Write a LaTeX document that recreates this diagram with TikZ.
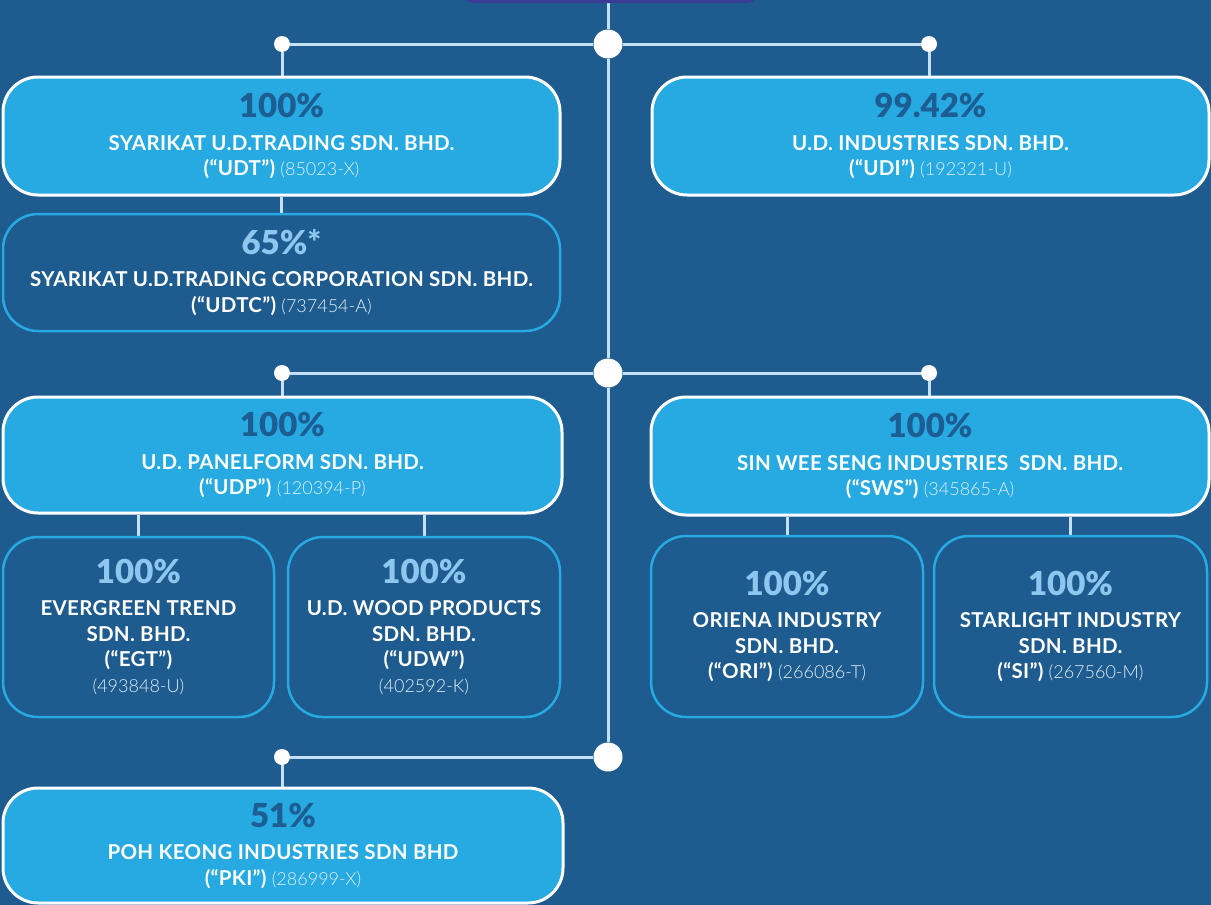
\documentclass[tikz,border=0pt]{standalone}
\usepackage{fontspec}
\setmainfont{Lato}[LetterSpace=1.5]
\newfontfamily\reglight{Lato Light}
\newfontfamily\pctfont{Lato Black}
\definecolor{bgc}{HTML}{1E5B8E}
\definecolor{boxc}{HTML}{27AAE1}
\definecolor{linec}{HTML}{C5E0F5}
\definecolor{pctdark}{HTML}{1C5D93}
\definecolor{pctlight}{HTML}{8DC6EE}
\definecolor{regc}{HTML}{E2F0FA}
\definecolor{topc}{HTML}{3A3C96}
\pgfdeclarelayer{back}
\pgfdeclarelayer{bg}
\pgfsetlayers{back,bg,main}
\newcommand\pctD[1]{{\pctfont\mdseries\fontsize{33}{25}\selectfont\color{pctdark}#1}\\[7pt]}
\newcommand\pctL[1]{{\pctfont\mdseries\fontsize{33}{25}\selectfont\color{pctlight}#1}\\[7pt]}
\newcommand\regno[1]{{\reglight\mdseries\fontsize{18}{25}\selectfont\color{regc}#1}}
\begin{document}
\begin{tikzpicture}[x=1pt,y=-1pt,
  basebox/.style={inner sep=0pt, align=center, rounded corners=35pt,
    text=white, font=\fontsize{20.5}{25.5}\selectfont\bfseries},
  lightbox/.style={basebox, draw=white, line width=3pt, fill=boxc},
  darkbox/.style={basebox, draw=boxc, line width=2.5pt, fill=bgc},
  bigdot/.style={circle, fill=white, inner sep=0pt, minimum size=29pt},
  smalldot/.style={circle, fill=white, inner sep=0pt, minimum size=16pt},
  conn/.style={draw=linec, line width=3pt}]
\begin{pgfonlayer}{back}
\fill[bgc] (0,0) rectangle (1211,905);
\end{pgfonlayer}
\useasboundingbox (0,0) rectangle (1211,905);
% top box
\node[fill=topc, rounded corners=18pt, minimum width=306pt, minimum height=44pt, inner sep=0pt] (top) at (610,-19) {};
% dots
\node[bigdot] (d1) at (608,44) {};
\node[bigdot] (d2) at (608,373) {};
\node[bigdot] (d3) at (608,757) {};
\node[smalldot] (s1l) at (282,44) {};
\node[smalldot] (s1r) at (929,44) {};
\node[smalldot] (s2l) at (282,373) {};
\node[smalldot] (s2r) at (929,373) {};
\node[smalldot] (s3l) at (282,757) {};
% boxes
\node[lightbox, minimum width=557pt, minimum height=118pt] (udt) at (281.5,136)
  {\pctD{100\%}SYARIKAT U.D.TRADING SDN. BHD.\\(“UDT”) \regno{(85023-X)}};
\node[lightbox, minimum width=557pt, minimum height=118pt] (udi) at (930.5,136)
  {\pctD{99.42\%}U.D. INDUSTRIES SDN. BHD.\\(“UDI”) \regno{(192321-U)}};
\node[darkbox, minimum width=557pt, minimum height=117pt] (udtc) at (281.5,272.5)
  {\pctL{65\%*}SYARIKAT U.D.TRADING CORPORATION SDN. BHD.\\(“UDTC”) \regno{(737454-A)}};
\node[lightbox, minimum width=559pt, minimum height=116pt] (udp) at (282.5,455)
  {\pctD{100\%}U.D. PANELFORM SDN. BHD.\\(“UDP”) \regno{(120394-P)}};
\node[lightbox, minimum width=558pt, minimum height=118pt] (sws) at (930,456)
  {\pctD{100\%}SIN WEE SENG INDUSTRIES\ \ SDN. BHD.\\(“SWS”) \regno{(345865-A)}};
\node[darkbox, minimum width=271pt, minimum height=180pt] (egt) at (138.5,627)
  {\pctL{100\%}EVERGREEN TREND\\SDN. BHD.\\(“EGT”)\\\regno{(493848-U)}};
\node[darkbox, minimum width=272pt, minimum height=180pt] (udw) at (424,627)
  {\pctL{100\%}U.D. WOOD PRODUCTS\\SDN. BHD.\\(“UDW”)\\\regno{(402592-K)}};
\node[darkbox, minimum width=272pt, minimum height=181pt] (ori) at (787,626.5)
  {\pctL{100\%}ORIENA INDUSTRY\\SDN. BHD.\\(“ORI”) \regno{(266086-T)}};
\node[darkbox, minimum width=273pt, minimum height=181pt] (si) at (1070.5,626.5)
  {\pctL{100\%}STARLIGHT INDUSTRY\\SDN. BHD.\\(“SI”) \regno{(267560-M)}};
\node[lightbox, minimum width=560pt, minimum height=115pt] (pki) at (283,845.5)
  {\pctD{51\%}POH KEONG INDUSTRIES SDN BHD\\(“PKI”) \regno{(286999-X)}};
% connectors
\begin{pgfonlayer}{bg}
\path[conn] (top.south -| d1) -- (d1) -- (d2) -- (d3);
\path[conn] (s1l) -- (d1) -- (s1r);
\path[conn] (s2l) -- (d2) -- (s2r);
\path[conn] (s3l) -- (d3);
\path[conn] (s1l) -- (udt.north -| s1l);
\path[conn] (s1r) -- (udi.north -| s1r);
\path[conn] (udt.south) -- (udtc.north);
\path[conn] (s2l) -- (udp.north -| s2l);
\path[conn] (s2r) -- (sws.north -| s2r);
\path[conn] (s3l) -- (pki.north -| s3l);
\path[conn] (egt.north) -- (egt.north |- udp.south);
\path[conn] (udw.north) -- (udw.north |- udp.south);
\path[conn] (ori.north) -- (ori.north |- sws.south);
\path[conn] (si.north) -- (si.north |- sws.south);
\end{pgfonlayer}
\end{tikzpicture}
\end{document}
